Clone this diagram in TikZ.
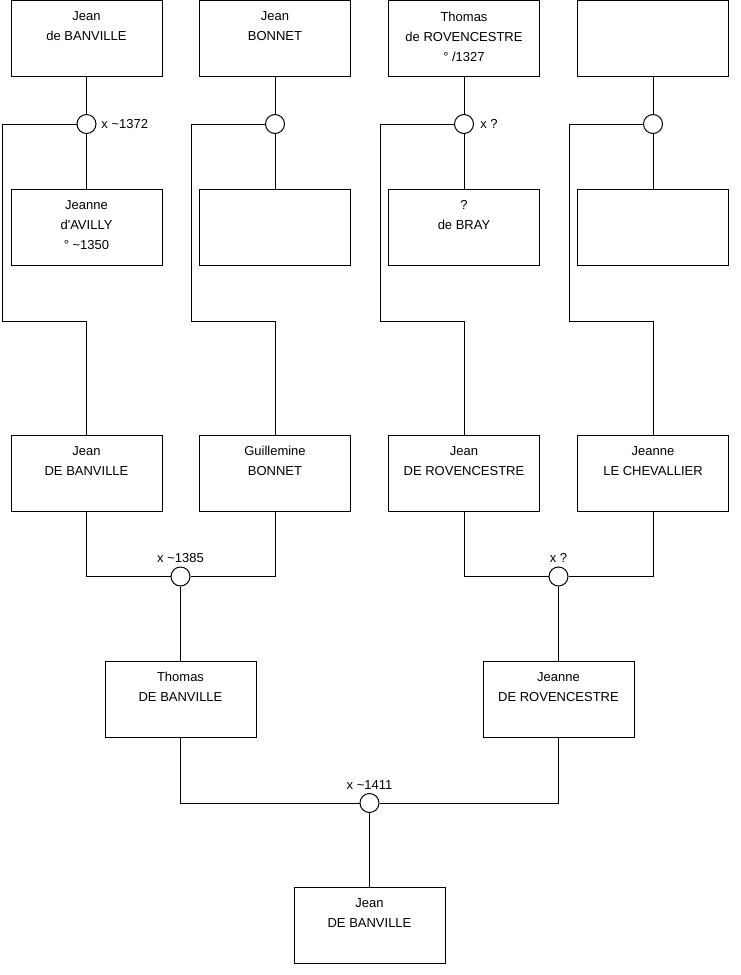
\documentclass[tikz,border=0pt]{standalone}
\usepackage{fontspec}
\setmainfont{Liberation Sans}
\begin{document}
\begin{tikzpicture}[x=0.75pt,y=-0.75pt,
  pbox/.style={draw, line width=0.75pt, fill=white, minimum width=113.25pt, minimum height=57pt, inner sep=0pt},
  ptext/.style={anchor=north, align=center, inner sep=0pt, font=\fontsize{9.75}{15}\selectfont},
  union/.style={circle, draw, line width=0.75pt, fill=white, minimum size=14.25pt, inner sep=0pt},
  ulabel/.style={inner sep=0pt, font=\fontsize{9.75}{11}\selectfont},
  link/.style={line width=0.75pt}]
\useasboundingbox (0,0) rectangle (740,975);
\newcommand{\pers}[4]{\node[pbox] (#1) at (#2,#3) {};
  \node[ptext] (#1t) at ([yshift=-8.6pt]#1.north) {#4};}
% row 1
\pers{a1}{86.5}{38.5}{Jean\\de BANVILLE}
\pers{a2}{275}{38.5}{Jean\\BONNET}
\pers{a3}{464}{38.5}{Thomas\\de ROVENCESTRE\\° /1327}
\pers{a4}{653}{38.5}{}
% row 2
\pers{b1}{86.5}{227}{Jeanne\\d\textquotesingle AVILLY\\° \textasciitilde1350}
\pers{b2}{275}{227}{}
\pers{b3}{464}{227}{?\\de BRAY}
\pers{b4}{653}{227}{}
% row 3
\pers{c1}{86.5}{473}{Jean\\DE BANVILLE}
\pers{c2}{275}{473}{Guillemine\\BONNET}
\pers{c3}{464}{473}{Jean\\DE ROVENCESTRE}
\pers{c4}{653}{473}{Jeanne\\LE CHEVALLIER}
% row 4
\pers{d1}{180.5}{699}{Thomas\\DE BANVILLE}
\pers{d2}{558.5}{699}{Jeanne\\DE ROVENCESTRE}
% row 5
\pers{e1}{369.5}{925}{Jean\\DE BANVILLE}
% unions
\node[union] (u1) at (86.5,124) {};
\node[union] (u2) at (275,124) {};
\node[union] (u3) at (464,124) {};
\node[union] (u4) at (653,124) {};
\node[union] (v1) at (180.5,576.5) {};
\node[union] (v2) at (558.5,576.5) {};
\node[union] (w1) at (369.5,803) {};
% bend points
\coordinate (k1) at (2,321);
\coordinate (k2) at (191,321);
\coordinate (k3) at (380,321);
\coordinate (k4) at (569,321);
% connectors row 1-2
\foreach \i in {1,2,3,4}{
  \draw[link] (a\i.south) -- (u\i.north);
  \draw[link] (u\i.south) -- (b\i.north);
  \draw[link] (u\i.west) -| (k\i) -| (c\i.north);
}
% connectors row 3-4
\draw[link] (c1.south) |- (v1.west);
\draw[link] (c2.south) |- (v1.east);
\draw[link] (v1.south) -- (d1.north);
\draw[link] (c3.south) |- (v2.west);
\draw[link] (c4.south) |- (v2.east);
\draw[link] (v2.south) -- (d2.north);
% connectors row 4-5
\draw[link] (d1.south) |- (w1.west);
\draw[link] (d2.south) |- (w1.east);
\draw[link] (w1.south) -- (e1.north);
% labels
\node[ulabel, anchor=west] (l1) at ([xshift=3.5pt]u1.east) {x \textasciitilde1372};
\node[ulabel, anchor=west] (l3) at ([xshift=4.5pt]u3.east) {x ?};
\node[ulabel, anchor=south] (l5) at ([yshift=2.5pt]v1.north) {x \textasciitilde1385};
\node[ulabel, anchor=south] (l6) at ([yshift=2.5pt]v2.north) {x ?};
\node[ulabel, anchor=south] (l7) at ([yshift=2.5pt]w1.north) {x \textasciitilde1411};
\end{tikzpicture}
\end{document}
